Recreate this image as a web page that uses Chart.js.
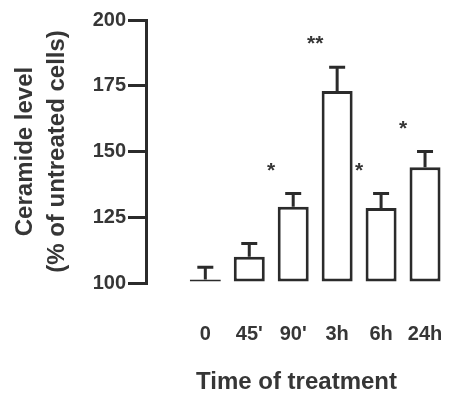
<!DOCTYPE html>
<html lang="en">
  <head>
    <meta charset="UTF-8" />
    <title>Ceramide level</title>
    <script src="https://cdn.jsdelivr.net/npm/chart.js@4.4.1/dist/chart.umd.min.js"></script>
    <style>
      html, body { margin: 0; padding: 0; background: #fff; }
      .chart-container { width: 450px; height: 401px; }
    </style>
  </head>
  <body>
    <div class="chart-container">
      <canvas id="chart" width="450" height="401"></canvas>
    </div>
    <script>
      // values
      const labels = ["0", "45'", "90'", "3h", "6h", "24h"];
      const ceramide = [100, 110, 129, 173, 128.5, 144];
      const sem = [6, 5, 5, 9, 5.5, 6];
      const stars = ["", "", "*", "**", "*", "*"];
      const yTicks = [100, 125, 150, 175, 200];

      const ink = "#2b2b2b";
      const textColor = "#363636";
      const family = "'Liberation Sans', Arial, sans-serif";

      // upper error bars + significance stars
      const errorBars = {
        id: "errorBars",
        afterDatasetsDraw(chart) {
          const { ctx } = chart;
          const yScale = chart.scales.y;
          const meta = chart.getDatasetMeta(0);
          ctx.save();
          ctx.strokeStyle = ink;
          ctx.lineWidth = 3;
          meta.data.forEach((bar, i) => {
            const top = Math.min(bar.y, bar.base);
            const cap = yScale.getPixelForValue(ceramide[i] + sem[i]);
            ctx.beginPath();
            ctx.moveTo(bar.x, top);
            ctx.lineTo(bar.x, cap);
            ctx.moveTo(bar.x - 8, cap);
            ctx.lineTo(bar.x + 8, cap);
            ctx.stroke();

            if (stars[i]) {
              ctx.fillStyle = textColor;
              ctx.font = "bold 21px " + family;
              ctx.textAlign = "center";
              ctx.textBaseline = "alphabetic";
              ctx.fillText(stars[i], bar.x - 22, cap - 17);
            }
          });
          ctx.restore();
        },
      };

      new Chart(document.getElementById("chart"), {
        type: "bar",
        data: {
          datasets: [
            {
              data: ceramide.map((v, i) => ({ x: i, y: v })),
              base: 100,
              backgroundColor: "#ffffff",
              borderColor: ink,
              borderWidth: 3,
              borderSkipped: false,
              inflateAmount: 0,
              barThickness: 31,
              minBarLength: 3.5,
              clip: false,
            },
          ],
        },
        options: {
          responsive: false,
          animation: false,
          events: [],
          layout: { padding: { top: 20, right: 3, left: 0, bottom: 0 } },
          plugins: { legend: { display: false }, tooltip: { enabled: false } },
          scales: {
            x: {
              type: "linear",
              min: -1.35,
              max: 5.5,
              offset: false,
              grid: { display: false, drawTicks: false },
              border: { display: false },
              afterBuildTicks: (s) => {
                s.ticks = labels.map((l, i) => ({ value: i }));
              },
              afterFit: (s) => {
                s.height = 118;
                s.paddingLeft = 0;
                s.paddingRight = 0;
              },
              ticks: {
                autoSkip: false,
                maxRotation: 0,
                padding: 39,
                color: textColor,
                font: { family, size: 20, weight: "bold" },
                callback: (v) => labels[v],
              },
              title: {
                display: true,
                text: "Time of treatment",
                color: textColor,
                font: { family, size: 24, weight: "bold" },
                padding: { top: 0, bottom: 4 },
              },
            },
            y: {
              min: 100,
              max: 200,
              afterBuildTicks: (s) => {
                s.ticks = yTicks.map((v) => ({ value: v }));
              },
              afterFit: (s) => {
                s.width = 146;
              },
              grid: {
                drawOnChartArea: false,
                tickLength: 18,
                color: ink,
                lineWidth: 3,
              },
              border: { display: true, color: ink, width: 3 },
              ticks: {
                padding: 2,
                color: textColor,
                font: { family, size: 20, weight: "bold" },
              },
              title: {
                display: true,
                text: ["Ceramide level", "(% of untreated cells)"],
                color: textColor,
                font: { family, size: 24, weight: "bold", lineHeight: 1.33 },
                padding: { top: 9, bottom: 0 },
              },
            },
          },
        },
        plugins: [errorBars],
      });
    </script>
  </body>
</html>
